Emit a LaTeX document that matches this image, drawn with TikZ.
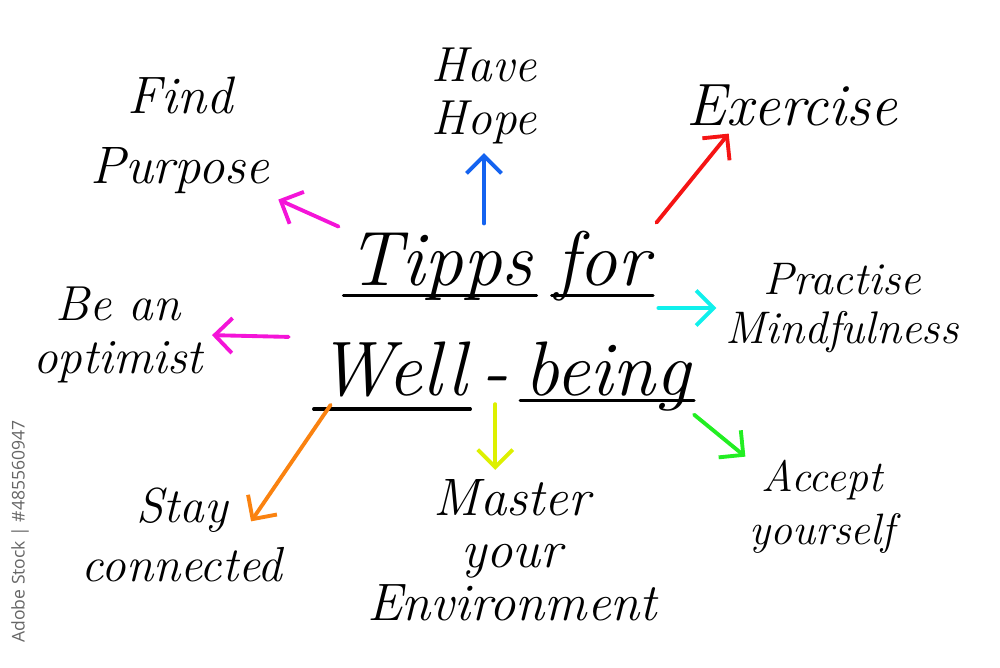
\documentclass[tikz,border=0pt]{standalone}
\usepackage{fontspec}
\newfontfamily\wmfont{Open Sans}
\usetikzlibrary{positioning, arrows.meta}
\definecolor{cMag}{HTML}{F414D8}
\definecolor{cBlue}{HTML}{1463F0}
\definecolor{cRed}{HTML}{F51414}
\definecolor{cCyan}{HTML}{10F0EC}
\definecolor{cGreen}{HTML}{22EE22}
\definecolor{cYel}{HTML}{DDF000}
\definecolor{cOra}{HTML}{FA8210}

\begin{document}
\begin{tikzpicture}[x=0.02cm, y=-0.02cm, >={Straight Barb[length=3.5mm, width=7mm]},
  lbl/.style={align=center, inner sep=2pt, font=\fontsize{28}{30}\selectfont\itshape},
  ttl/.style={inner sep=2pt, font=\fontsize{44}{48}\selectfont\itshape},
  arr/.style={->, line width=2.2pt, line cap=round, shorten <=3pt, shorten >=3pt},
  ul/.style={line width=1.8pt, line cap=round}]
  \useasboundingbox (0,0) rectangle (1000,667);
  % title words
  \node[ttl, anchor=base] (tp) at (440,285) {Tipps};
  \node[ttl, base right=0.3cm of tp] (fr) {for};
  \node[ttl, anchor=base] (wl) at (392,395) {Well};
  \node[ttl, base right=0.15cm of wl] (ds) {-};
  \node[ttl, base right=0.15cm of ds] (bg) {being};
  \draw[ul] ([yshift=-6pt]tp.base west) -- ([yshift=-6pt]tp.base east);
  \draw[ul] ([yshift=-6pt]fr.base west) -- ([yshift=-6pt]fr.base east);
  \draw[ul] ([yshift=-8pt]wl.base west) -- ([yshift=-8pt]wl.base east);
  \draw[ul] ([yshift=-3pt]bg.base west) -- ([yshift=-3pt]bg.base east);
  % the tips
  \node[lbl, font=\fontsize{30}{40}\selectfont\itshape] (purp) at (180,135) {Find\\Purpose};
  \node[lbl] (hope) at (484,96) {Have\\Hope};
  \node[lbl, font=\fontsize{34}{36}\selectfont\itshape] (exer) at (792,105) {Exercise};
  \node[lbl, font=\fontsize{26}{28}\selectfont\itshape] (mind) at (842,308) {Practise\\Mindfulness};
  \node[lbl] (opt) at (118,335) {Be an\\optimist};
  \node[lbl, font=\fontsize{25}{30}\selectfont\itshape] (acc) at (822,507) {Accept\\yourself};
  \node[lbl, font=\fontsize{30}{30}\selectfont\itshape] (mast) at (512,550) {Master\\your\\Environment};
  \node[lbl, font=\fontsize{28}{34}\selectfont\itshape] (conn) at (182,535) {Stay\\connected};
  % watermark
  \node[rotate=90, text=black!60, font=\wmfont\fontsize{10}{12}\selectfont, anchor=east, inner sep=0pt] (wm) at (20,420) {Adobe Stock | \#485560947};
  % arrows
  \draw[arr, cMag] (tp.north west) -- (purp.south east);
  \draw[arr, cBlue] (hope.south |- tp.north) -- (hope.south);
  \draw[arr, cRed] (fr.north east) -- ([xshift=-1.2cm]exer.south);
  \draw[arr, cCyan] (mind.west -| fr.east) -- (mind.west);
  \draw[arr, cGreen, shorten <=0pt, shorten >=0pt] (bg.south east) -- (acc.north west);
  \draw[arr, cYel] (ds.south) -- (ds.south |- mast.north);
  \draw[arr, cOra] ([xshift=0.4cm]wl.south west) -- ([xshift=-0.76cm, yshift=-0.84cm]conn.north east);
  \draw[arr, cMag, shorten <=0.5cm] (wl.north west) -- (opt.east);
\end{tikzpicture}
\end{document}
